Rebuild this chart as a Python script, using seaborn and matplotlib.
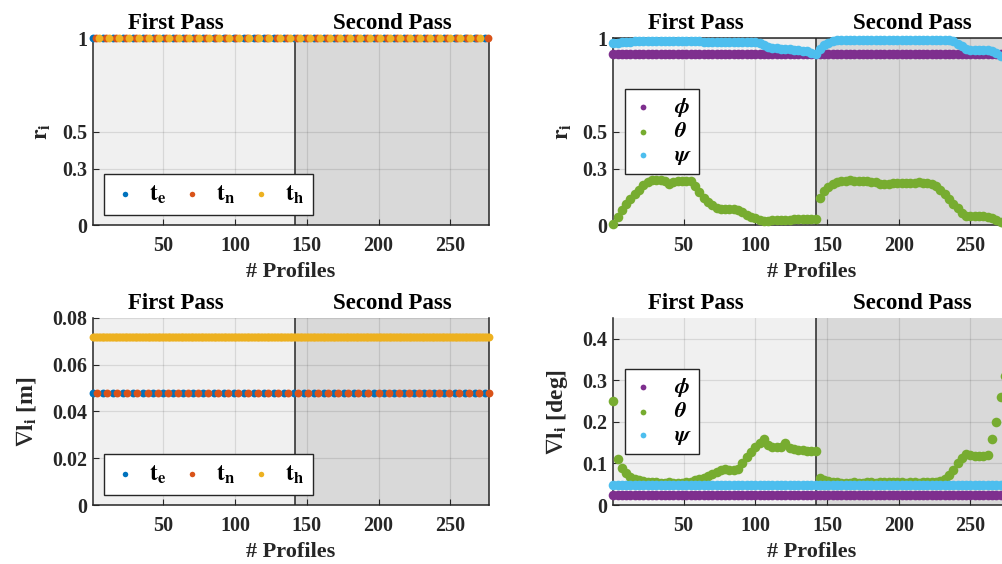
import numpy as np
import matplotlib
matplotlib.use('Agg')
import matplotlib.pyplot as plt
import seaborn as sns

# Profiles and where the second pass starts
n_profiles = 277
first_pass_end = 142
profiles = np.arange(1, n_profiles + 1)

# Translations (left column): constant over all profiles
ri_te = np.full(n_profiles, 1.0)
ri_tn = np.full(n_profiles, 1.0)
ri_th = np.full(n_profiles, 1.0)
dl_te = np.full(n_profiles, 0.048)
dl_tn = np.full(n_profiles, 0.048)
dl_th = np.full(n_profiles, 0.072)

# Rotations (right column), read every 3rd profile
prof_rot = np.arange(1, n_profiles + 1, 3)
ri_phi = np.full(len(prof_rot), 0.917)
ri_theta = [0.005, 0.045, 0.08, 0.11, 0.14, 0.165, 0.19, 0.212, 0.23, 0.24,
            0.242, 0.242, 0.238, 0.218, 0.232, 0.236, 0.236, 0.235, 0.234, 0.21,
            0.175, 0.145, 0.125, 0.108, 0.093, 0.087, 0.087, 0.087, 0.086, 0.08,
            0.068, 0.055, 0.044, 0.035, 0.028, 0.022, 0.024, 0.027, 0.028, 0.028,
            0.029, 0.028, 0.03, 0.031, 0.032, 0.033, 0.033, 0.034, 0.145, 0.18,
            0.205, 0.22, 0.228, 0.233, 0.236, 0.24, 0.238, 0.236, 0.236, 0.233,
            0.232, 0.23, 0.222, 0.218, 0.222, 0.225, 0.225, 0.223, 0.225, 0.226,
            0.224, 0.228, 0.227, 0.226, 0.222, 0.21, 0.19, 0.165, 0.14, 0.115,
            0.09, 0.065, 0.05, 0.047, 0.047, 0.047, 0.047, 0.044, 0.035, 0.025,
            0.015, 0.008, 0.005]
ri_psi = [0.972, 0.976, 0.978, 0.98, 0.981, 0.982, 0.982, 0.983, 0.983, 0.983,
          0.983, 0.983, 0.983, 0.982, 0.982, 0.983, 0.983, 0.983, 0.982, 0.982,
          0.982, 0.981, 0.981, 0.98, 0.98, 0.981, 0.98, 0.978, 0.98, 0.981,
          0.981, 0.98, 0.98, 0.98, 0.975, 0.962, 0.95, 0.946, 0.945, 0.943,
          0.942, 0.94, 0.938, 0.935, 0.932, 0.928, 0.922, 0.915, 0.94, 0.96,
          0.975, 0.985, 0.988, 0.99, 0.99, 0.99, 0.99, 0.99, 0.99, 0.99,
          0.99, 0.99, 0.99, 0.99, 0.99, 0.99, 0.99, 0.99, 0.99, 0.99,
          0.99, 0.99, 0.99, 0.99, 0.99, 0.99, 0.99, 0.99, 0.988, 0.982,
          0.97, 0.955, 0.942, 0.937, 0.936, 0.935, 0.935, 0.934, 0.93, 0.918,
          0.905, 0.9, 0.9]
dl_phi = np.full(len(prof_rot), 0.025)
dl_psi = np.full(len(prof_rot), 0.049)
dl_theta = [0.25, 0.11, 0.088, 0.076, 0.068, 0.063, 0.06, 0.058, 0.056, 0.055,
            0.055, 0.054, 0.054, 0.055, 0.054, 0.054, 0.054, 0.055, 0.056, 0.059,
            0.062, 0.066, 0.07, 0.074, 0.079, 0.084, 0.086, 0.085, 0.085, 0.086,
            0.1, 0.115, 0.128, 0.14, 0.15, 0.16, 0.144, 0.14, 0.14, 0.139,
            0.148, 0.138, 0.135, 0.133, 0.132, 0.131, 0.13, 0.13, 0.066, 0.06,
            0.057, 0.055, 0.055, 0.054, 0.054, 0.054, 0.055, 0.054, 0.054, 0.055,
            0.055, 0.054, 0.055, 0.055, 0.056, 0.056, 0.055, 0.055, 0.054, 0.055,
            0.055, 0.054, 0.055, 0.055, 0.055, 0.056, 0.058, 0.063, 0.072, 0.085,
            0.1, 0.112, 0.122, 0.121, 0.119, 0.118, 0.118, 0.12, 0.16, 0.2,
            0.26, 0.31, 0.36]

# MATLAB default colours
c_te, c_tn, c_th = '#0072BD', '#D95319', '#EDB120'
c_phi, c_theta, c_psi = '#7E2F8E', '#77AC30', '#4DBEEE'

plt.rcParams['font.family'] = ['Liberation Serif', 'DejaVu Serif']
plt.rcParams['font.weight'] = 'bold'
plt.rcParams['mathtext.fontset'] = 'stix'

fig = plt.figure(figsize=(10.02, 5.64), dpi=100)
w, h = 0.3952, 0.3316
ax_tl = fig.add_axes([0.0928, 0.601, w, h])
ax_tr = fig.add_axes([0.612, 0.601, w, h])
ax_bl = fig.add_axes([0.0928, 0.1046, w, h])
ax_br = fig.add_axes([0.612, 0.1046, w, h])


def style_axes(ax, ylim, yticks, yticklabels, ylabel, ylabel_x, top_row):
    ax.axvspan(1, first_pass_end, color='#f0f0f0', zorder=0, lw=0)
    ax.axvspan(first_pass_end, n_profiles, color='#d9d9d9', zorder=0, lw=0)
    ax.axvline(first_pass_end, color='#262626', lw=1.1, zorder=2)
    ax.set_xlim(1, n_profiles)
    ax.set_ylim(*ylim)
    ax.set_xticks([50, 100, 150, 200, 250])
    ax.set_yticks(yticks)
    ax.set_yticklabels(yticklabels)
    ax.grid(True, color='k', alpha=0.1, lw=0.9)
    ax.tick_params(direction='in', length=4, width=0.8, labelsize=14.4, colors='#262626')
    ax.tick_params(axis='x', pad=8)
    ax.tick_params(axis='y', pad=4)
    for lab in ax.get_xticklabels() + ax.get_yticklabels():
        lab.set_fontweight('bold')
        lab.set_color('#262626')
    for s in ax.spines.values():
        s.set_color('#262626')
        s.set_linewidth(1.1)
    ax.spines['top'].set_visible(top_row)
    ax.set_xlabel('# Profiles', fontsize=16, fontweight='bold', color='#262626')
    ax.xaxis.set_label_coords(0.5, -0.2)
    ax.set_ylabel(ylabel, fontsize=17, fontweight='bold', color='#262626')
    ax.yaxis.set_label_coords(ylabel_x, 0.5)
    tr = ax.get_xaxis_transform()
    ax.text(58.7, 1.047, 'First Pass', transform=tr, ha='center', va='baseline',
            fontsize=16.5, fontweight='bold')
    ax.text(209.6, 1.047, 'Second Pass', transform=tr, ha='center', va='baseline',
            fontsize=16.5, fontweight='bold')


def dots(ax, x, y, color, label, size):
    sns.scatterplot(x=x, y=y, ax=ax, color=color, s=size, linewidth=0,
                    label=label, zorder=3, clip_on=False, legend=False)


# top-left
stride = 7
dots(ax_tl, profiles[0::stride], ri_te[0::stride], c_te, r'$\mathbf{t_e}$', 32)
dots(ax_tl, profiles[2::stride], ri_tn[2::stride], c_tn, r'$\mathbf{t_n}$', 32)
dots(ax_tl, profiles[4::stride], ri_th[4::stride], c_th, r'$\mathbf{t_h}$', 32)
style_axes(ax_tl, (0, 1), [0, 0.3, 0.5, 1], ['0', '0.3', '0.5', '1'],
           r'$\mathbf{r_i}$', -0.1, True)

# bottom-left
dots(ax_bl, profiles[0::stride], dl_te[0::stride], c_te, r'$\mathbf{t_e}$', 32)
dots(ax_bl, profiles[3::stride], dl_tn[3::stride], c_tn, r'$\mathbf{t_n}$', 32)
dots(ax_bl, profiles, dl_th, c_th, r'$\mathbf{t_h}$', 32)
style_axes(ax_bl, (0, 0.08), [0, 0.02, 0.04, 0.06, 0.08],
           ['0', '0.02', '0.04', '0.06', '0.08'],
           r'$\mathbf{\nabla l_i}$ [m]', -0.14, False)

# top-right
dots(ax_tr, prof_rot, ri_phi, c_phi, r'$\boldsymbol{\phi}$', 48)
dots(ax_tr, prof_rot, ri_theta, c_theta, r'$\boldsymbol{\theta}$', 48)
dots(ax_tr, prof_rot, ri_psi, c_psi, r'$\boldsymbol{\psi}$', 48)
style_axes(ax_tr, (0, 1), [0, 0.3, 0.5, 1], ['0', '0.3', '0.5', '1'],
           r'$\mathbf{r_i}$', -0.1, True)

# bottom-right
dots(ax_br, prof_rot, dl_phi, c_phi, r'$\boldsymbol{\phi}$', 48)
dots(ax_br, prof_rot, dl_theta, c_theta, r'$\boldsymbol{\theta}$', 48)
dots(ax_br, prof_rot, dl_psi, c_psi, r'$\boldsymbol{\psi}$', 48)
style_axes(ax_br, (0, 0.45), [0, 0.1, 0.2, 0.3, 0.4],
           ['0', '0.1', '0.2', '0.3', '0.4'],
           r'$\mathbf{\nabla l_i}$ [deg]', -0.11, False)

for ax in (ax_tl, ax_bl):
    leg = ax.legend(loc='lower left', bbox_to_anchor=(0.028, 0.053), ncol=3,
                    fontsize=17, fancybox=False, framealpha=1, edgecolor='#262626',
                    borderaxespad=0, handlelength=1.0, handletextpad=0.5,
                    columnspacing=0.6, markerscale=0.7)
    leg.get_frame().set_linewidth(1.0)
    leg.set_zorder(5)

for ax in (ax_tr, ax_br):
    leg = ax.legend(loc='upper left', bbox_to_anchor=(0.03, 0.728), ncol=1,
                    fontsize=16, fancybox=False, framealpha=1, edgecolor='#262626',
                    borderaxespad=0, borderpad=0.3, handlelength=1.0,
                    handletextpad=0.9, labelspacing=0.15, markerscale=0.6)
    leg.get_frame().set_linewidth(1.0)
    leg.set_zorder(5)

fig.savefig('out.png', dpi=100)
